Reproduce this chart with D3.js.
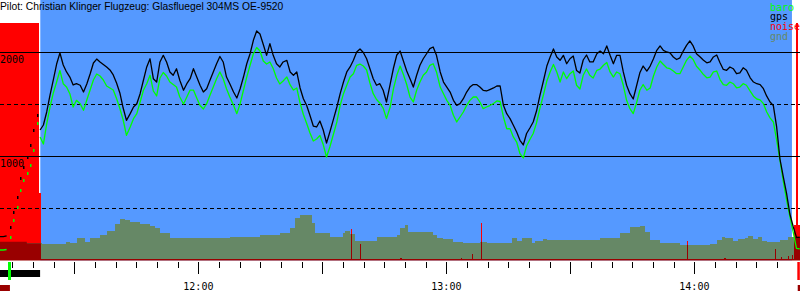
<!DOCTYPE html>
<html>
<head>
<meta charset="utf-8">
<script src="https://cdn.jsdelivr.net/npm/d3@7"></script>
<style>
  body { margin: 0; background: #fff; }
  svg { display: block; }
  .mono { font-family: "DejaVu Sans Mono", monospace; font-size: 10px; }
  .title { font-family: "Liberation Sans", Arial, sans-serif; font-size: 10.3px; }
</style>
</head>
<body>
<div id="chart"></div>
<script>
var title = 'Pilot: Christian Klinger Flugzeug: Glasfluegel 304MS OE-9520'

// all times are minutes after 11:00
var trackTimes = [
  12.0, 12.8, 13.6, 14.4, 15.2, 16.0, 16.8, 17.6, 18.5, 19.3, 20.1, 20.9, 21.7, 22.5, 23.3, 24.1, 24.9, 25.7, 26.5, 27.3, 28.1, 28.9, 29.7, 30.5, 31.4, 32.2, 33.0, 33.8, 34.6, 35.4, 36.2,
  37.0, 37.8, 38.6, 39.4, 40.2, 41.0, 41.8, 42.6, 43.5, 44.3, 45.1, 45.9, 46.7, 47.5, 48.3, 49.1, 49.9, 50.7, 51.5, 52.3, 53.1, 53.9, 54.7, 55.5, 56.4, 57.2, 58.0, 58.8, 59.6, 60.4, 61.2,
  62.0, 62.8, 63.6, 64.4, 65.2, 66.0, 66.8, 67.6, 68.5, 69.3, 70.1, 70.9, 71.7, 72.5, 73.3, 74.1, 74.9, 75.7, 76.5, 77.3, 78.1, 78.9, 79.7, 80.5, 81.4, 82.2, 83.0, 83.8, 84.6, 85.4, 86.2,
  87.0, 87.8, 88.6, 89.4, 90.2, 91.0, 91.8, 92.6, 93.5, 94.3, 95.1, 95.9, 96.7, 97.5, 98.3, 99.1, 99.9, 100.7, 101.5, 102.3, 103.1, 103.9, 104.7, 105.5, 106.4, 107.2, 108.0, 108.8, 109.6, 110.4, 111.2,
  112.0, 112.8, 113.6, 114.4, 115.2, 116.0, 116.8, 117.6, 118.5, 119.3, 120.1, 120.9, 121.7, 122.5, 123.3, 124.1, 124.9, 125.7, 126.5, 127.3, 128.1, 128.9, 129.7, 130.5, 131.4, 132.2, 133.0, 133.8, 134.6, 135.4, 136.2,
  137.0, 137.8, 138.6, 139.4, 140.2, 141.0, 141.8, 142.6, 143.5, 144.3, 145.1, 145.9, 146.7, 147.5, 148.3, 149.1, 149.9, 150.7, 151.5, 152.3, 153.1, 153.9, 154.7, 155.5, 156.4, 157.2, 158.0, 158.8, 159.6, 160.4, 161.2,
  162.0, 162.8, 163.6, 164.4, 165.2, 166.0, 166.8, 167.6, 168.5, 169.3, 170.1, 170.9, 171.7, 172.5, 173.3, 174.1, 174.9, 175.7, 176.5, 177.3, 178.1, 178.9, 179.7, 180.5, 181.4, 182.2, 183.0, 183.8, 184.6, 185.4, 186.2,
  187.0, 187.8, 188.6, 189.4, 190.2, 191.0, 191.8, 192.6, 193.5, 194.3, 195.1, 195.9, 196.7, 197.5, 198.3, 199.1, 199.9, 200.7, 201.5, 202.3, 203.1, 203.9, 204.7, 205.5
]
var gpsAlt = [
  227, 227, 234, 323, 467, 612, 788, 900, 996, 1109, 1253, 1397, 1253, 1301, 1426, 1589, 1734, 1887, 1993, 1878, 1811, 1762, 1686, 1698, 1683, 1618, 1695, 1791, 1897, 1935, 1907,
  1883, 1859, 1830, 1782, 1705, 1609, 1464, 1346, 1410, 1474, 1506, 1602, 1731, 1859, 1938, 1746, 1714, 1907, 1971, 1907, 1811, 1779, 1842, 1731, 1635, 1698, 1746, 1842, 1762, 1683, 1618,
  1650, 1731, 1811, 1890, 1960, 1907, 1762, 1698, 1618, 1561, 1650, 1762, 1890, 1986, 2115, 2205, 2176, 2075, 1971, 2083, 1971, 1890, 1859, 1907, 1923, 1811, 1779, 1811, 1657, 1554, 1488,
  1392, 1291, 1282, 1339, 1253, 1128, 1234, 1346, 1474, 1602, 1714, 1811, 1859, 1923, 2003, 2032, 1998, 1938, 1842, 1746, 1683, 1698, 1635, 1522, 1695, 1849, 1974, 2012, 1916, 1820, 1746,
  1666, 1779, 1875, 1938, 1986, 2035, 2051, 1971, 1811, 1714, 1666, 1618, 1538, 1490, 1506, 1554, 1618, 1666, 1690, 1690, 1666, 1635, 1628, 1642, 1657, 1676, 1676, 1490, 1410, 1362, 1298,
  1234, 1154, 1109, 1219, 1272, 1330, 1435, 1580, 1729, 1868, 1955, 2032, 1955, 1923, 1971, 1890, 1938, 1964, 1825, 1801, 1926, 1974, 1907, 1907, 1986, 2012, 1986, 2061, 1971, 1890, 1971,
  1971, 1811, 1683, 1602, 1551, 1676, 1803, 1868, 1820, 1868, 1938, 2019, 2061, 2019, 2003, 1995, 1955, 1931, 1947, 2012, 2067, 2109, 2061, 1986, 1955, 1923, 1899, 1907, 1955, 1974, 1899,
  1835, 1827, 1859, 1842, 1794, 1803, 1851, 1827, 1755, 1714, 1698, 1690, 1650, 1578, 1522, 1488, 1282, 974, 804, 644, 445, 325, 221, 221
]
var baroAlt = [
  99, 99, 104, 227, 387, 515, 676, 772, 839, 916, 1061, 1317, 1186, 1118, 1311, 1474, 1609, 1714, 1825, 1698, 1666, 1602, 1474, 1538, 1506, 1442, 1541, 1637, 1734, 1791, 1772,
  1734, 1676, 1657, 1637, 1556, 1460, 1349, 1202, 1282, 1362, 1410, 1522, 1635, 1698, 1779, 1628, 1580, 1753, 1806, 1772, 1714, 1690, 1666, 1570, 1503, 1570, 1637, 1637, 1561, 1488, 1455,
  1506, 1586, 1666, 1746, 1811, 1746, 1650, 1570, 1490, 1410, 1506, 1635, 1762, 1875, 1986, 2046, 2012, 1916, 1887, 1907, 1844, 1753, 1695, 1724, 1762, 1686, 1637, 1657, 1512, 1402, 1315,
  1224, 1147, 1166, 1200, 1113, 993, 1089, 1202, 1330, 1490, 1602, 1683, 1762, 1794, 1875, 1887, 1868, 1830, 1705, 1602, 1546, 1512, 1464, 1362, 1474, 1650, 1779, 1868, 1786, 1690, 1570,
  1522, 1635, 1714, 1779, 1811, 1875, 1890, 1811, 1666, 1602, 1538, 1490, 1394, 1330, 1378, 1426, 1490, 1538, 1570, 1570, 1522, 1458, 1474, 1488, 1508, 1532, 1527, 1378, 1265, 1265, 1186,
  1137, 1025, 984, 1099, 1161, 1219, 1320, 1458, 1594, 1724, 1811, 1883, 1811, 1714, 1811, 1746, 1794, 1820, 1683, 1647, 1779, 1839, 1779, 1753, 1827, 1839, 1875, 1902, 1811, 1762, 1811,
  1794, 1683, 1538, 1458, 1410, 1512, 1635, 1690, 1635, 1657, 1772, 1859, 1916, 1883, 1851, 1842, 1820, 1794, 1794, 1859, 1923, 1964, 1931, 1866, 1827, 1786, 1755, 1762, 1811, 1820, 1738,
  1690, 1683, 1714, 1698, 1659, 1666, 1698, 1683, 1626, 1578, 1551, 1543, 1506, 1426, 1370, 1330, 1157, 962, 762, 580, 421, 272, 115, 109
]

// terrain below the track (step profile)
var gndTimes = [12.0, 16.8, 18.5, 21.7, 22.2, 28.0, 28.9, 30.6, 32.6, 33.8, 36.2, 37.9, 39.8, 41.0, 42.2, 43.5, 45.9, 48.3, 49.5, 50.7, 53.1, 58.0, 62.8, 67.6, 74.9, 79.7, 82.2, 83.4, 84.6, 87.0, 87.5, 88.2, 91.1, 91.8, 95.0, 95.5, 96.7, 97.9, 99.6, 103.2, 104.7, 108.0, 108.8, 110.0, 110.7, 111.7, 116.8, 117.7, 119.2, 121.6, 124.0, 125.7, 128.1, 129.8, 133.0, 135.9, 137.1, 138.3, 140.7, 141.4, 143.4, 144.3, 147.5, 152.3, 157.2, 162.0, 164.4, 166.8, 168.0, 169.3, 171.7, 176.5, 181.4, 183.8, 185.5, 186.7, 187.4, 189.3, 190.5, 192.2, 193.0, 194.2, 195.4, 196.4, 197.6, 200.7, 202.6, 205.55]
var gndAlt = [179, 179, 163, 163, 157, 179, 163, 212, 179, 212, 243, 282, 349, 397, 387, 368, 349, 330, 311, 262, 214, 214, 214, 224, 243, 262, 311, 407, 436, 436, 359, 265, 265, 227, 260, 285, 253, 188, 188, 221, 221, 243, 308, 339, 275, 269, 243, 212, 202, 179, 163, 169, 179, 163, 169, 212, 186, 212, 169, 188, 202, 195, 195, 195, 214, 262, 320, 330, 272, 195, 163, 147, 147, 157, 195, 221, 212, 188, 202, 212, 234, 202, 221, 188, 179, 195, 227, 234]

// engine noise level, each value holds until the next time
var noiseTimes = [12.0, 21.5, 21.9, 96.9, 97.15, 99.2, 99.45, 108.8, 109.2, 123.5, 123.75, 126.3, 126.55, 128.4, 128.65, 151.9, 152.15, 161.6, 161.85, 167.2, 167.45, 172.9, 173.4, 178.3, 178.55, 187.2, 187.65, 199.5, 199.75, 201.0, 201.25, 202.6, 202.85, 203.7, 203.95, 204.1, 204.6, 205.1, 205.55]
var noiseLevel = [1000, 283, 0, 132, 0, 69, 0, 10, 0, 8, 0, 26, 0, 158, 0, 6, 0, 6, 0, 6, 0, 6, 0, 80, 0, 10, 0, 48, 0, 14, 0, 16, 0, 22, 0, 148, 1000, 148, 0]

var flight = [21.75, 203.6]      // free flight (blue)
var tow = [12.0, 21.7]
var takeoff = 14.3
var landing = 204.9
var engineRun = [[12.0, 14.4], [205.0, 205.55]]
var altGrid = [500, 1000, 1500, 2000]
var altLabels = [1000, 2000]
var legendNames = ['baro', 'gps', 'noise', 'gnd']

;(function (d3) {
  var W = 800, H = 300
  var colors = { baro: '#00ff00', gps: '#000000', noise: '#ff0000', gnd: '#668866' }
  var darkRed = '#990000'

  function toDate (m) { return new Date(2000, 0, 1, 11, 0, 0, Math.round(m * 60000)) }

  var svg = d3.select('#chart').append('svg')
    .attr('width', W)
    .attr('height', H)

  var x = d3.scaleTime()
    .domain([toDate(12), toDate(205.55)])
    .range([0, W])
  var y = d3.scaleLinear()
    .domain([0, 2000])
    .range([260.3, 52.3])
  var yNoise = d3.scaleLinear()
    .domain([0, 1000])
    .range([y(0), 22.5])
  var X = function (m) { return x(toDate(m)) }

  // sky while gliding
  svg.append('rect')
    .attr('x', X(flight[0]))
    .attr('y', 0)
    .attr('width', X(flight[1]) - X(flight[0]))
    .attr('height', y(0))
    .attr('fill', '#5599ff')

  // noise bars
  var noise = noiseTimes.slice(0, -1).map(function (t, i) {
    return { t0: t, t1: noiseTimes[i + 1], v: noiseLevel[i] }
  }).filter(function (d) { return d.v > 0 })

  function drawNoise (g, color) {
    g.selectAll('rect')
      .data(noise)
      .enter().append('rect')
      .attr('x', function (d) { return X(d.t0) })
      .attr('width', function (d) { return X(d.t1) - X(d.t0) })
      .attr('y', function (d) { return yNoise(d.v) })
      .attr('height', function (d) { return yNoise(0) - yNoise(d.v) })
      .attr('fill', color)
      .attr('shape-rendering', 'crispEdges')
  }
  drawNoise(svg.append('g'), colors.noise)

  // ground profile
  var gnd = gndTimes.map(function (t, i) { return { t: t, alt: gndAlt[i] } })
  var gndArea = d3.area()
    .x(function (d) { return X(d.t) })
    .y0(y(0))
    .y1(function (d) { return y(d.alt) })
    .curve(d3.curveStepAfter)

  svg.append('clipPath')
    .attr('id', 'gnd-clip')
    .append('path')
    .attr('d', gndArea(gnd))

  svg.append('path')
    .attr('d', gndArea(gnd))
    .attr('fill', colors.gnd)
    .attr('shape-rendering', 'crispEdges')

  drawNoise(svg.append('g').attr('clip-path', 'url(#gnd-clip)'), darkRed)

  // zero line
  svg.append('line')
    .attr('x1', 0).attr('x2', W)
    .attr('y1', y(0) - 0.5).attr('y2', y(0) - 0.5)
    .attr('stroke', darkRed)
    .attr('stroke-width', 1.5)

  // altitude grid
  svg.append('g')
    .selectAll('line')
    .data(altGrid)
    .enter().append('line')
    .attr('x1', 0).attr('x2', W)
    .attr('y1', function (d) { return Math.floor(y(d)) + 0.5 })
    .attr('y2', function (d) { return Math.floor(y(d)) + 0.5 })
    .attr('stroke', '#000')
    .attr('stroke-dasharray', function (d) { return d % 1000 ? '4,3' : null })
    .attr('shape-rendering', 'crispEdges')

  svg.append('g')
    .selectAll('text')
    .data(altLabels)
    .enter().append('text')
    .attr('class', 'mono')
    .attr('x', 0)
    .attr('y', function (d) { return y(d) + 10.5 })
    .text(function (d) { return d })

  // barograph traces
  var pts = trackTimes.map(function (t, i) { return { t: t, gps: gpsAlt[i], baro: baroAlt[i] } })
  var before = pts.filter(function (d) { return d.t < takeoff })
  var towed = pts.filter(function (d) { return d.t >= takeoff && d.t < tow[1] })
  var free = pts.filter(function (d) { return d.t >= tow[1] })

  ;['baro', 'gps'].forEach(function (key) {
    var line = d3.line()
      .x(function (d) { return X(d.t) })
      .y(function (d) { return y(d[key]) })
    ;[before, free].forEach(function (seg) {
      svg.append('path')
        .datum(seg)
        .attr('d', line)
        .attr('fill', 'none')
        .attr('stroke', colors[key])
        .attr('stroke-width', 1.3)
        .attr('stroke-linejoin', 'round')
    })
    svg.append('g')
      .selectAll('rect')
      .data(towed)
      .enter().append('rect')
      .attr('x', function (d) { return Math.round(X(d.t)) })
      .attr('y', function (d) { return Math.round(y(d[key])) - 1 })
      .attr('width', 1.5)
      .attr('height', 3)
      .attr('fill', colors[key])
  })

  // time axis
  var ticks = x.ticks(d3.timeMinute.every(5))
  var axis = svg.append('g')
  axis.selectAll('line')
    .data(ticks)
    .enter().append('line')
    .attr('x1', function (d) { return Math.round(x(d)) + 0.5 })
    .attr('x2', function (d) { return Math.round(x(d)) + 0.5 })
    .attr('y1', 262)
    .attr('y2', function (d) { return d.getMinutes() % 30 ? 268 : 274 })
    .attr('stroke', '#000')
    .attr('shape-rendering', 'crispEdges')
  axis.selectAll('text')
    .data(ticks.filter(function (d) { return d.getMinutes() === 0 }))
    .enter().append('text')
    .attr('class', 'mono')
    .attr('x', function (d) { return x(d) })
    .attr('y', 290)
    .attr('text-anchor', 'middle')
    .text(d3.timeFormat('%H:%M'))

  // tow / takeoff / landing / engine marks
  svg.append('rect')
    .attr('x', X(tow[0])).attr('y', 270)
    .attr('width', X(tow[1]) - X(tow[0])).attr('height', 7)
    .attr('fill', '#000')
  svg.append('rect')
    .attr('x', X(takeoff) - 1.5).attr('y', 262)
    .attr('width', 3).attr('height', 18)
    .attr('fill', colors.baro)
  svg.append('rect')
    .attr('x', X(landing)).attr('y', 262)
    .attr('width', 2.5).attr('height', 18)
    .attr('fill', colors.noise)
  svg.append('g')
    .selectAll('rect')
    .data(engineRun)
    .enter().append('rect')
    .attr('x', function (d) { return X(d[0]) })
    .attr('width', function (d) { return X(d[1]) - X(d[0]) })
    .attr('y', 285).attr('height', 6)
    .attr('fill', darkRed)

  // legend
  svg.append('g')
    .selectAll('text')
    .data(legendNames)
    .enter().append('text')
    .attr('class', 'mono')
    .attr('x', 770)
    .attr('y', function (d, i) { return 10.7 + i * 9.7 })
    .attr('fill', function (d) { return colors[d] })
    .text(function (d) { return d })

  svg.append('text')
    .attr('class', 'title')
    .attr('x', 0)
    .attr('y', 10)
    .text(title)
})(d3)
</script>
</body>
</html>
